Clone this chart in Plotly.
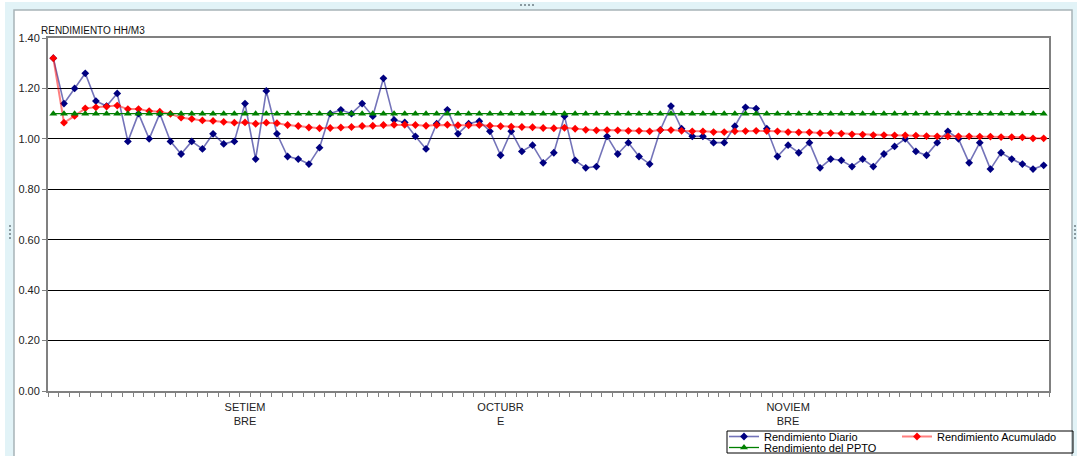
import plotly.graph_objects as go

# Daily yield (HH/M3) for each day of the period
rend_diario = [
    1.32, 1.14, 1.20, 1.26, 1.15, 1.13, 1.18, 0.99, 1.10, 1.00,
    1.10, 0.99, 0.94, 0.99, 0.96, 1.02, 0.98, 0.99, 1.14, 0.92,
    1.19, 1.02, 0.93, 0.92, 0.90, 0.965, 1.10, 1.115, 1.10, 1.14,
    1.09, 1.24, 1.075, 1.065, 1.01, 0.96, 1.06, 1.115, 1.02, 1.06,
    1.07, 1.03, 0.935, 1.03, 0.95, 0.975, 0.905, 0.945, 1.09, 0.915,
    0.885, 0.89, 1.01, 0.94, 0.985, 0.93, 0.90, 1.035, 1.13, 1.04,
    1.01, 1.01, 0.985, 0.985, 1.05, 1.125, 1.12, 1.04, 0.93, 0.975,
    0.945, 0.985, 0.885, 0.92, 0.915, 0.89, 0.92, 0.89, 0.94, 0.97,
    1.00, 0.95, 0.935, 0.985, 1.03, 1.00, 0.905, 0.985, 0.88, 0.945,
    0.92, 0.90, 0.88, 0.895,
]

# Cumulative yield
rend_acumulado = [
    1.32, 1.064, 1.091, 1.121, 1.125, 1.128, 1.132, 1.118, 1.118, 1.110,
    1.108, 1.099, 1.084, 1.079, 1.073, 1.071, 1.067, 1.064, 1.065, 1.060,
    1.064, 1.062, 1.055, 1.051, 1.045, 1.042, 1.043, 1.045, 1.047, 1.051,
    1.052, 1.055, 1.056, 1.056, 1.055, 1.052, 1.055, 1.056, 1.054, 1.054,
    1.055, 1.052, 1.050, 1.048, 1.047, 1.046, 1.043, 1.042, 1.044, 1.040,
    1.036, 1.034, 1.035, 1.034, 1.032, 1.032, 1.030, 1.035, 1.035, 1.032,
    1.030, 1.030, 1.027, 1.027, 1.030, 1.031, 1.032, 1.031, 1.030, 1.027,
    1.026, 1.026, 1.023, 1.023, 1.021, 1.018, 1.017, 1.015, 1.015, 1.014,
    1.014, 1.013, 1.011, 1.010, 1.010, 1.010, 1.010, 1.009, 1.009, 1.007,
    1.007, 1.006, 1.002, 1.002,
]

# Budgeted yield (PPTO)
rend_ppto = [
    1.10, 1.10, 1.10, 1.10, 1.10, 1.10, 1.10, 1.10, 1.10, 1.10,
    1.10, 1.10, 1.10, 1.10, 1.10, 1.10, 1.10, 1.10, 1.10, 1.10,
    1.10, 1.10, 1.10, 1.10, 1.10, 1.10, 1.10, 1.10, 1.10, 1.10,
    1.10, 1.10, 1.10, 1.10, 1.10, 1.10, 1.10, 1.10, 1.10, 1.10,
    1.10, 1.10, 1.10, 1.10, 1.10, 1.10, 1.10, 1.10, 1.10, 1.10,
    1.10, 1.10, 1.10, 1.10, 1.10, 1.10, 1.10, 1.10, 1.10, 1.10,
    1.10, 1.10, 1.10, 1.10, 1.10, 1.10, 1.10, 1.10, 1.10, 1.10,
    1.10, 1.10, 1.10, 1.10, 1.10, 1.10, 1.10, 1.10, 1.10, 1.10,
    1.10, 1.10, 1.10, 1.10, 1.10, 1.10, 1.10, 1.10, 1.10, 1.10,
    1.10, 1.10, 1.10, 1.10,
]

# Day index of each point and the days carrying a month label
dias = list(range(len(rend_diario)))
mes_dia = [18, 42, 69]
mes_texto = ["SETIEM<br>BRE", "OCTUBR<br>E", "NOVIEM<br>BRE"]

y_ticks = [0.0, 0.2, 0.4, 0.6, 0.8, 1.0, 1.2, 1.4]

W, H = 1078, 456
ML, MR, MT, MB = 48, 29, 38, 65
PW, PH = W - ML - MR, H - MT - MB


def px_x(p):
    return (p - ML) / PW


def px_y(p):
    return (H - MB - p) / PH


fig = go.Figure()

fig.add_trace(go.Scatter(
    x=dias, y=rend_diario, name="Rendimiento Diario", mode="lines+markers",
    line=dict(color="rgba(0,0,128,0.55)", width=1.6),
    marker=dict(symbol="diamond", size=6, color="#000080"),
    legend="legend",
))
fig.add_trace(go.Scatter(
    x=dias, y=rend_acumulado, name="Rendimiento Acumulado", mode="lines+markers",
    line=dict(color="rgba(255,0,0,0.5)", width=2),
    marker=dict(symbol="diamond", size=6, color="#ff0000"),
    legend="legend",
))
fig.add_trace(go.Scatter(
    x=dias, y=rend_ppto, name="Rendimiento del PPTO", mode="lines+markers",
    line=dict(color="#008000", width=1.3),
    marker=dict(symbol="triangle-up", size=7, color="#008000"),
    legend="legend2",
))

shapes = [
    # outer frame band
    dict(type="rect", xref="paper", yref="paper", layer="below",
         x0=px_x(5), x1=px_x(1077), y0=px_y(470), y1=px_y(2),
         fillcolor="#e2f3f7", line=dict(width=0)),
    # chart area
    dict(type="rect", xref="paper", yref="paper", layer="below",
         x0=px_x(14), x1=px_x(1072), y0=px_y(470), y1=px_y(10),
         fillcolor="white", line=dict(color="#a8b4b8", width=1.5)),
    # legend box
    dict(type="rect", xref="paper", yref="paper",
         x0=px_x(727), x1=px_x(1073), y0=px_y(453), y1=px_y(431),
         fillcolor="rgba(0,0,0,0)", line=dict(color="black", width=1)),
]
# resize handles
for cx, cy, horiz in [(527, 5, True), (10, 232, False), (1075, 232, False)]:
    for k in range(4):
        dx, dy = (k * 4 - 6, 0) if horiz else (0, k * 4 - 6)
        shapes.append(dict(
            type="rect", xref="paper", yref="paper",
            x0=px_x(cx + dx - 1), x1=px_x(cx + dx + 1),
            y0=px_y(cy + dy + 1), y1=px_y(cy + dy - 1),
            fillcolor="#8a9aa0", line=dict(width=0)))

fig.update_layout(
    width=W, height=H,
    margin=dict(l=ML, r=MR, t=MT, b=MB, autoexpand=False),
    paper_bgcolor="white", plot_bgcolor="white",
    font=dict(family="Liberation Sans, Arial, sans-serif", size=11, color="#222"),
    shapes=shapes,
    showlegend=True,
    legend=dict(
        orientation="h", x=px_x(724), xanchor="left", y=px_y(422), yanchor="top",
        entrywidth=128, bgcolor="rgba(0,0,0,0)", borderwidth=0,
        font=dict(size=11, color="black"), tracegroupgap=0,
    ),
    legend2=dict(
        orientation="h", x=px_x(724), xanchor="left", y=px_y(433), yanchor="top",
        bgcolor="rgba(0,0,0,0)", borderwidth=0,
        font=dict(size=11, color="black"),
    ),
    annotations=[dict(
        text="RENDIMIENTO HH/M3", xref="paper", yref="paper",
        x=px_x(39), xanchor="left", y=1, yanchor="bottom", yshift=0,
        showarrow=False, font=dict(size=10, color="#111"),
    )],
)

fig.update_xaxes(
    range=[-0.5, len(dias) - 0.5],
    tickmode="array", tickvals=mes_dia, ticktext=mes_texto,
    ticks="", showgrid=False, zeroline=False, ticklabelstandoff=5,
    showline=True, linecolor="#808080", linewidth=1.5, mirror=True,
    tickfont=dict(size=11, color="#222"),
    minor=dict(ticks="outside", tick0=-0.5, dtick=1, ticklen=4,
               tickcolor="#808080", showgrid=False),
)
fig.update_yaxes(
    range=[0, 1.4], tickmode="array", tickvals=y_ticks,
    tickformat=".2f", ticks="outside", ticklen=4, tickcolor="#808080",
    showgrid=True, gridcolor="black", gridwidth=1, zeroline=False,
    showline=True, linecolor="#808080", linewidth=2, mirror=True,
    tickfont=dict(size=11, color="#222"),
)

fig.write_html("out.html")
